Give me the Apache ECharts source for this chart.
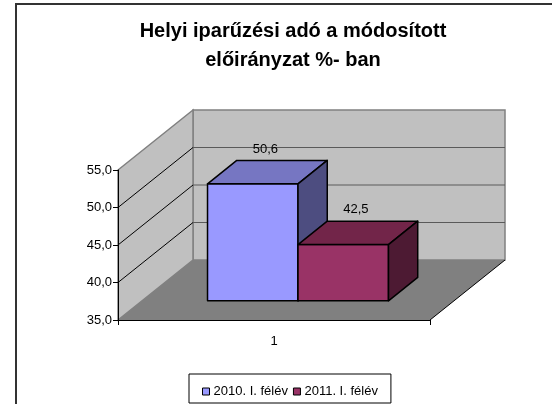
<!DOCTYPE html>
<html>
<head>
<meta charset="utf-8">
<script src="https://cdn.jsdelivr.net/npm/echarts@6/dist/echarts.min.js"></script>
<style>
  html, body { margin: 0; padding: 0; background: #fff; }
  #chart { width: 552px; height: 404px; }
</style>
</head>
<body>
<div id="chart"></div>
<script>
// data
var categories = ['1'];
var seriesNames = ['2010. I. félév', '2011. I. félév'];
var values2010 = [50.6];
var values2011 = [42.5];
var yTicks = [35, 40, 45, 50, 55];
var titleLines = ['Helyi iparűzési adó a módosított', 'előirányzat %- ban'];

// 3d look (pixels)
var DX = 75, DY = -60;          // depth of the floor
var FRONT = 0.32, DEPTH = 0.39; // bar front plane / bar depth, as part of floor depth
var BAR_FRAC = 0.29;            // bar width as part of category band
var FONT = 'Liberation Sans, Arial, sans-serif';

var yMin = yTicks[0], yMax = yTicks[yTicks.length - 1];
var colors = [
    { front: '#9999ff', top: '#7676c2', side: '#4d4d80' },
    { front: '#993366', top: '#722549', side: '#4d1a33' }
];

function fmt(v) {
    return v.toFixed(1).replace('.', ',');
}

function renderWalls(params, api) {
    var lo = api.coord([api.value(0), yMin]);
    var hi = api.coord([api.value(0), yMax]);
    var bw = api.size([1, 0])[0];
    var x0 = lo[0] - bw / 2, x1 = lo[0] + bw / 2;
    var yb = lo[1], yt = hi[1];
    var kids = [];
    // back wall
    kids.push({ type: 'polygon', shape: { points: [[x0 + DX, yt + DY], [x1 + DX, yt + DY], [x1 + DX, yb + DY], [x0 + DX, yb + DY]] },
        style: { fill: '#c0c0c0', stroke: '#808080', lineWidth: 1.5 } });
    // side wall
    kids.push({ type: 'polygon', shape: { points: [[x0, yt], [x0 + DX, yt + DY], [x0 + DX, yb + DY], [x0, yb]] },
        style: { fill: '#c0c0c0', stroke: '#808080', lineWidth: 1.5 } });
    // floor
    kids.push({ type: 'polygon', shape: { points: [[x0, yb], [x1, yb], [x1 + DX, yb + DY], [x0 + DX, yb + DY]] },
        style: { fill: '#808080' } });
    kids.push({ type: 'line', shape: { x1: x1, y1: yb, x2: x1 + DX, y2: yb + DY }, style: { stroke: '#000', lineWidth: 1 } });
    // grid lines
    for (var i = 1; i < yTicks.length - 1; i++) {
        var y = api.coord([api.value(0), yTicks[i]])[1];
        kids.push({ type: 'line', shape: { x1: x0 + DX, y1: y + DY, x2: x1 + DX, y2: y + DY }, style: { stroke: '#5a5a5a', lineWidth: 1 } });
        kids.push({ type: 'line', shape: { x1: x0, y1: y, x2: x0 + DX, y2: y + DY }, style: { stroke: '#000', lineWidth: 1 } });
    }
    return { type: 'group', children: kids };
}

function makeBar(index) {
    var c = colors[index];
    return function (params, api) {
        var base = api.coord([api.value(0), yMin]);
        var top = api.coord([api.value(0), api.value(1)]);
        var bw = api.size([1, 0])[0] * BAR_FRAC;
        var fx = FRONT * DX, fy = FRONT * DY, bx = DEPTH * DX, by = DEPTH * DY;
        var xl = base[0] + (index - 1) * bw + fx, xr = xl + bw;
        var yt = top[1] + fy, yb = base[1] + fy;
        var line = { stroke: '#000', lineWidth: 1.5, lineJoin: 'round' };
        return { type: 'group', children: [
            { type: 'polygon', shape: { points: [[xl, yt], [xr, yt], [xr, yb], [xl, yb]] },
                style: Object.assign({ fill: c.front }, line) },
            { type: 'polygon', shape: { points: [[xl, yt], [xr, yt], [xr + bx, yt + by], [xl + bx, yt + by]] },
                style: Object.assign({ fill: c.top }, line) },
            { type: 'polygon', shape: { points: [[xr, yt], [xr + bx, yt + by], [xr + bx, yb + by], [xr, yb]] },
                style: Object.assign({ fill: c.side }, line) },
            { type: 'text', x: (xl + xr + bx) / 2 - 2, y: yt + by / 2 - 23,
                style: { text: fmt(api.value(1)), fill: '#000', font: '13px ' + FONT, align: 'center', verticalAlign: 'middle' } }
        ] };
    };
}

var chart = echarts.init(document.getElementById('chart'));

var option = {
    backgroundColor: '#fff',
    animation: false,
    graphic: [
        { type: 'rect', shape: { x: 16, y: 4, width: 600, height: 500 }, style: { fill: null, stroke: '#333', lineWidth: 2 }, z: 0 },
        { type: 'text', x: 293, y: 31, style: { text: titleLines[0], fill: '#000', font: 'bold 20px ' + FONT, align: 'center', verticalAlign: 'middle' } },
        { type: 'text', x: 293, y: 60, style: { text: titleLines[1], fill: '#000', font: 'bold 20px ' + FONT, align: 'center', verticalAlign: 'middle' } }
    ],
    grid: { left: 118, right: 122, top: 170, bottom: 84, outerBoundsMode: 'none' },
    xAxis: {
        type: 'category',
        data: categories,
        z: 5,
        axisLine: { lineStyle: { color: '#000', width: 1 } },
        axisTick: { show: true, length: 5, lineStyle: { color: '#000' } },
        axisLabel: { color: '#000', fontSize: 13, fontFamily: FONT, margin: 15 }
    },
    yAxis: {
        type: 'value',
        min: yMin,
        max: yMax,
        interval: yTicks[1] - yTicks[0],
        z: 5,
        axisLine: { show: true, lineStyle: { color: '#000', width: 1 } },
        axisTick: { show: true, length: 5, lineStyle: { color: '#000' } },
        splitLine: { show: false },
        axisLabel: { color: '#000', fontSize: 13, fontFamily: FONT, margin: 6, padding: [6, 0, 0, 0], formatter: fmt }
    },
    legend: {
        data: seriesNames,
        left: 189,
        top: 374,
        padding: [11, 13, 5, 13],
        itemGap: 5,
        itemWidth: 7,
        itemHeight: 7,
        icon: 'rect',
        borderColor: '#000',
        borderWidth: 1,
        itemStyle: { borderColor: '#000', borderWidth: 1 },
        textStyle: { color: '#000', fontSize: 13, fontFamily: FONT, padding: [0, 0, 0, -1] }
    },
    series: [
        {
            type: 'custom',
            name: 'walls',
            silent: true,
            z: 1,
            renderItem: renderWalls,
            data: categories.map(function (c, i) { return [i, yMin]; })
        },
        {
            type: 'custom',
            name: seriesNames[0],
            z: 3,
            itemStyle: { color: colors[0].front },
            renderItem: makeBar(0),
            data: values2010.map(function (v, i) { return [i, v]; })
        },
        {
            type: 'custom',
            name: seriesNames[1],
            z: 3,
            itemStyle: { color: colors[1].front },
            renderItem: makeBar(1),
            data: values2011.map(function (v, i) { return [i, v]; })
        }
    ]
};

chart.setOption(option);
</script>
</body>
</html>
